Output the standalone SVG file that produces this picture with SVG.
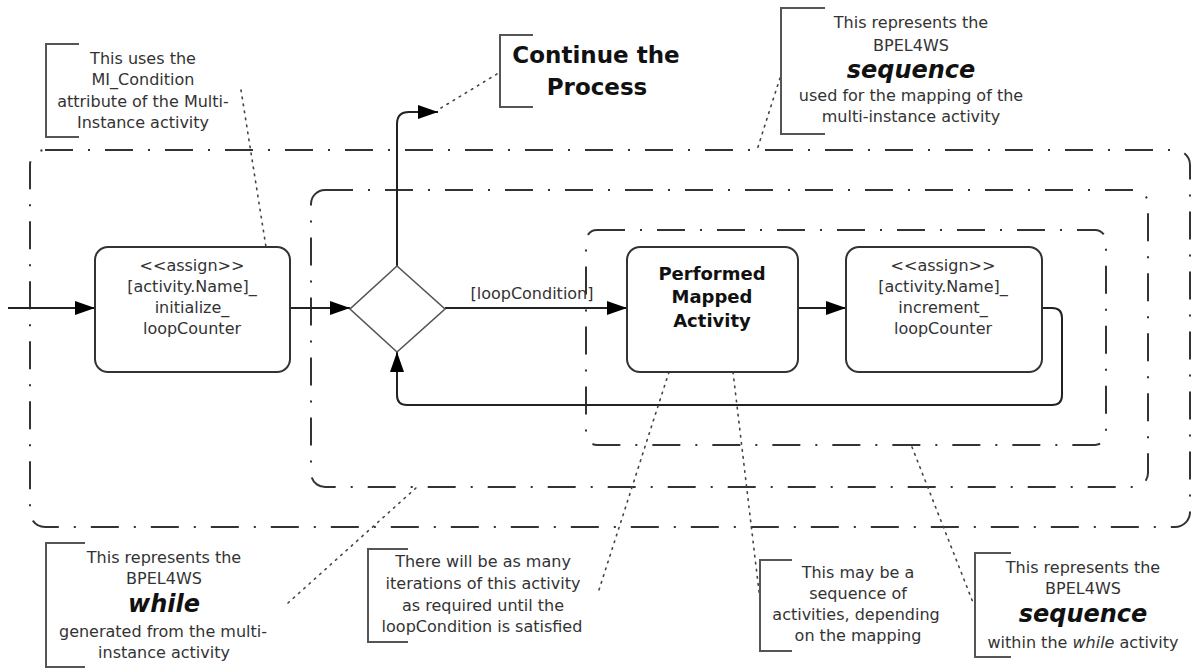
<svg xmlns="http://www.w3.org/2000/svg" width="1193" height="668" viewBox="0 0 1193 668">
<defs>
<marker id="arr" markerUnits="userSpaceOnUse" markerWidth="22" markerHeight="16" refX="20" refY="7" orient="auto">
<path d="M0,0 L20,7 L0,14 Z" fill="#000"/>
</marker>
<style>
.frame{fill:none;stroke:#333;stroke-width:2;stroke-dasharray:28 15 2 15}
.node{fill:#fff;stroke:#333;stroke-width:2}
.dia{fill:#fff;stroke:#555;stroke-width:1.6}
.edge{fill:none;stroke:#222;stroke-width:2}
.dot{fill:none;stroke:#444;stroke-width:1.6;stroke-dasharray:1.6 5.5;stroke-linecap:round}
.brk{fill:none;stroke:#555;stroke-width:2}
text{font-family:"DejaVu Sans","Liberation Sans",sans-serif;text-anchor:middle;fill:#333;font-size:16px}
.b{font-weight:bold;fill:#111}
.bi{font-weight:bold;font-style:italic;fill:#111;font-size:24px}
.big{font-weight:bold;fill:#111;font-size:23px}
</style>
</defs>
<rect width="1193" height="668" fill="#fff"/>

<g id="frames">
<rect id="outer-sequence" class="frame" x="30" y="150" width="1160" height="377" rx="15"/>
<rect id="while-frame" class="frame" x="311" y="190" width="837" height="297" rx="14"/>
<rect id="inner-sequence" class="frame" x="586" y="230" width="520" height="215" rx="11"/>
</g>

<g id="connectors">
<path class="edge" d="M8,308 H95" marker-end="url(#arr)"/>
<path class="edge" d="M290,308 H350" marker-end="url(#arr)"/>
<path class="edge" d="M445,308 H627" marker-end="url(#arr)"/>
<path class="edge" d="M798,308 H846" marker-end="url(#arr)"/>
<path class="edge" d="M397,266 V124 Q397,112 409,112 H438" marker-end="url(#arr)"/>
<path class="edge" d="M1042,308 H1052 Q1062,308 1062,318 V395 Q1062,405 1052,405 H407 Q397,405 397,395 V352" marker-end="url(#arr)"/>
<text x="532" y="299">[loopCondition]</text>
<path class="dot" d="M241,90 L266,247"/>
<path class="dot" d="M497,74 L441,108"/>
<path class="dot" d="M780,78 L757,150"/>
<path class="dot" d="M288,603 L417,487"/>
<path class="dot" d="M669,372 L598,593"/>
<path class="dot" d="M733,372 L760,600"/>
<path class="dot" d="M912,447 L974,605"/>
</g>

<g id="init-node">
<rect class="node" x="95" y="247" width="195" height="125" rx="13"/>
<text x="192" y="271">&lt;&lt;assign&gt;&gt;</text>
<text x="192" y="292">[activity.Name]_</text>
<text x="192" y="313">initialize_</text>
<text x="192" y="334">loopCounter</text>
</g>

<g id="decision">
<path class="dia" d="M397,266 L445,309 L397,352 L350,309 Z"/>
</g>

<g id="performed-node">
<rect class="node" x="627" y="247" width="171" height="125" rx="13"/>
<text class="b" x="712" y="280" style="font-size:18px">Performed</text>
<text class="b" x="712" y="303" style="font-size:18px">Mapped</text>
<text class="b" x="712" y="327" style="font-size:18px">Activity</text>
</g>

<g id="increment-node">
<rect class="node" x="846" y="247" width="196" height="125" rx="13"/>
<text x="943" y="271">&lt;&lt;assign&gt;&gt;</text>
<text x="943" y="292">[activity.Name]_</text>
<text x="943" y="313">increment_</text>
<text x="943" y="334">loopCounter</text>
</g>

<g id="note-mi-condition">
<path class="brk" d="M79,44 H46 V137 H79"/>
<text x="143" y="64">This uses the</text>
<text x="143" y="85">MI_Condition</text>
<text x="143" y="107">attribute of the Multi-</text>
<text x="143" y="128">Instance activity</text>
</g>

<g id="note-continue">
<path class="brk" d="M533,35 H500 V107 H533"/>
<text class="big" x="596" y="63">Continue the</text>
<text class="big" x="597" y="95">Process</text>
</g>

<g id="note-outer-sequence">
<path class="brk" d="M825,8 H781 V134 H825"/>
<text x="911" y="28">This represents the</text>
<text x="911" y="51">BPEL4WS</text>
<text class="bi" x="911" y="78">sequence</text>
<text x="911" y="101">used for the mapping of the</text>
<text x="911" y="122">multi-instance activity</text>
</g>

<g id="note-while">
<path class="brk" d="M85,543 H46 V667 H85"/>
<text x="164" y="563">This represents the</text>
<text x="164" y="584">BPEL4WS</text>
<text class="bi" x="164" y="612">while</text>
<text x="163" y="637">generated from the multi-</text>
<text x="164" y="658">instance activity</text>
</g>

<g id="note-iterations">
<path class="brk" d="M408,549 H368 V642 H408"/>
<text x="483" y="567">There will be as many</text>
<text x="483" y="589">iterations of this activity</text>
<text x="483" y="611">as required until the</text>
<text x="482" y="632">loopCondition is satisfied</text>
</g>

<g id="note-mapping">
<path class="brk" d="M792,560 H760 V651 H792"/>
<text x="858" y="578">This may be a</text>
<text x="858" y="599">sequence of</text>
<text x="856" y="620">activities, depending</text>
<text x="858" y="641">on the mapping</text>
</g>

<g id="note-inner-sequence">
<path class="brk" d="M1011,553 H975 V657 H1011"/>
<text x="1083" y="573">This represents the</text>
<text x="1083" y="594">BPEL4WS</text>
<text class="bi" x="1083" y="622">sequence</text>
<text x="1083" y="648">within the <tspan font-style="italic">while</tspan> activity</text>
</g>
</svg>
